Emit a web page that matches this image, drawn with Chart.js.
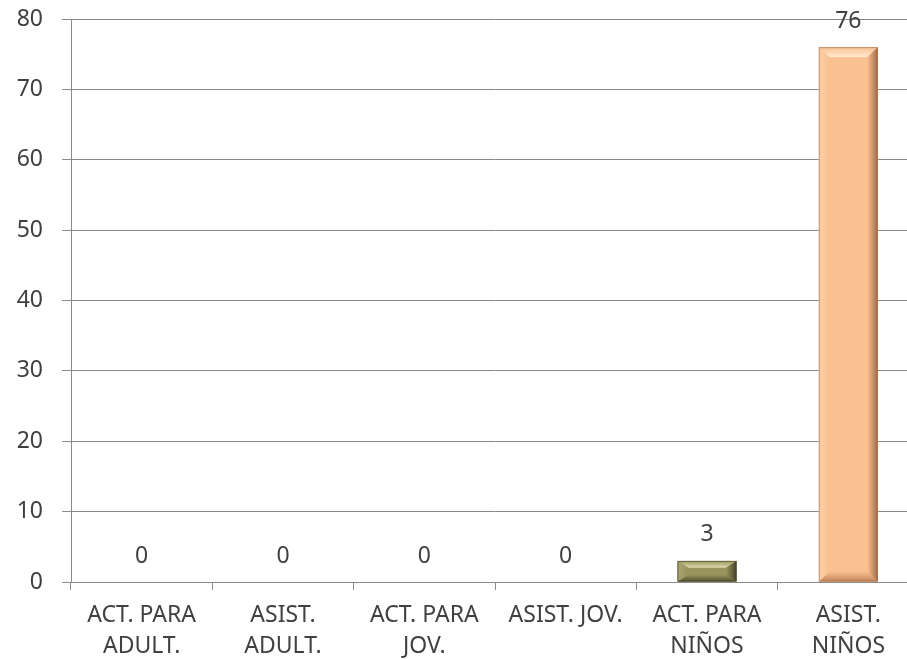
<!DOCTYPE html>
<html>
<head>
<meta charset="utf-8">
<script src="https://cdn.jsdelivr.net/npm/chart.js@4/dist/chart.umd.min.js"></script>
<style>
html,body{margin:0;padding:0;background:#fff;overflow:hidden;}
#wrap{width:919px;height:659px;}
</style>
</head>
<body>
<div id="wrap"><canvas id="c" width="919" height="659"></canvas></div>
<script>
const categories = [["ACT. PARA","ADULT."],["ASIST.","ADULT."],["ACT. PARA","JOV."],["ASIST. JOV."],["ACT. PARA","NIÑOS"],["ASIST.","NIÑOS"]];
const values = [0, 0, 0, 0, 3, 76];
const yTicks = [0, 10, 20, 30, 40, 50, 60, 70, 80];

const barColors = ['#4F81BD','#C0504D','#9BBB59','#8064A2','#8F8B5A','#FAC090'];
const bevel = [
  null,null,null,null,
  {top:'#E0DBAA', bottom:'#55512F', left:'#ABA670', right:'#46432A', mid:'#99945E', edge:'#3F3C24'},
  {top:'#FFEAD0', bottom:'#BF855A', left:'#FDD2AA', right:'#A26B47', mid:'#FAC090', edge:'#9C6A48'}
];

const FONT = '"Noto Sans", "Open Sans", sans-serif';
const TXT = '#404040';
const GRID = '#8A8A8A';

const bevelPlugin = {
  id: 'bevel',
  afterDatasetsDraw(chart) {
    const ctx = chart.ctx;
    const meta = chart.getDatasetMeta(0);
    meta.data.forEach((el, i) => {
      const bv = bevel[i];
      const v = chart.data.datasets[0].data[i];
      if (!bv || !v) return;
      const p = el.getProps(['x','y','base','width'], true);
      const x0 = p.x - p.width/2, x1 = p.x + p.width/2;
      const t = p.y, b = p.base;
      const h = b - t;
      const d = Math.min(10, h * 0.33);
      const dx = Math.min(11, p.width*0.18);
      ctx.save();
      ctx.fillStyle = bv.mid;
      ctx.fillRect(x0, t, p.width, h);
      const poly = (pts, col) => {
        ctx.beginPath();
        ctx.moveTo(pts[0][0], pts[0][1]);
        for (let k = 1; k < pts.length; k++) ctx.lineTo(pts[k][0], pts[k][1]);
        ctx.closePath();
        ctx.fillStyle = col;
        ctx.fill();
      };
      let g = ctx.createLinearGradient(0, t, 0, t + d);
      g.addColorStop(0, bv.mid); g.addColorStop(1, bv.top);
      poly([[x0,t],[x1,t],[x1-dx,t+d],[x0+dx,t+d]], g);
      g = ctx.createLinearGradient(0, b - d, 0, b);
      g.addColorStop(0, bv.mid); g.addColorStop(1, bv.bottom);
      poly([[x0,b],[x1,b],[x1-dx,b-d],[x0+dx,b-d]], g);
      g = ctx.createLinearGradient(x0, 0, x0 + dx, 0);
      g.addColorStop(0, bv.left); g.addColorStop(1, bv.mid);
      poly([[x0,t],[x0+dx,t+d],[x0+dx,b-d],[x0,b]], g);
      g = ctx.createLinearGradient(x1 - dx, 0, x1, 0);
      g.addColorStop(0, bv.mid); g.addColorStop(1, bv.right);
      poly([[x1,t],[x1-dx,t+d],[x1-dx,b-d],[x1,b]], g);
      ctx.strokeStyle = bv.edge;
      ctx.globalAlpha = 0.6;
      ctx.lineWidth = 1;
      ctx.strokeRect(x0 + 0.5, t + 0.5, p.width - 1, h - 1);
      ctx.restore();
    });
  }
};

const labelPlugin = {
  id: 'valueLabels',
  afterDatasetsDraw(chart) {
    const ctx = chart.ctx;
    const meta = chart.getDatasetMeta(0);
    ctx.save();
    ctx.font = '23px ' + FONT;
    ctx.fillStyle = TXT;
    ctx.textAlign = 'center';
    ctx.textBaseline = 'middle';
    meta.data.forEach((el, i) => {
      const p = el.getProps(['x','y'], true);
      ctx.fillText(String(chart.data.datasets[0].data[i]), p.x, p.y - 26);
    });
    ctx.restore();
  }
};

new Chart(document.getElementById('c'), {
  type: 'bar',
  data: {
    labels: categories,
    datasets: [{
      data: values,
      backgroundColor: barColors,
      barPercentage: 0.417,
      categoryPercentage: 1.0
    }]
  },
  options: {
    responsive: false,
    animation: false,
    layout: { padding: { top: 19, right: 0, left: 0, bottom: 0 } },
    plugins: { legend: { display: false }, tooltip: { enabled: false } },
    scales: {
      x: {
        offset: true,
        grid: { offset: true, drawOnChartArea: false, drawTicks: true, tickLength: 8, color: GRID, lineWidth: 1 },
        border: { display: true, color: GRID, width: 1 },
        ticks: { color: TXT, font: { family: FONT, size: 23, lineHeight: '31px' }, padding: 10, maxRotation: 0, autoSkip: false },
        afterFit(scale) { scale.height = 77; scale.paddingLeft = 0; scale.paddingRight = 0; }
      },
      y: {
        min: 0, max: 80,
        afterBuildTicks(scale) { scale.ticks = yTicks.map(v => ({ value: v })); },
        grid: { color: GRID, lineWidth: 1, drawTicks: true, tickLength: 9 },
        border: { display: true, color: GRID, width: 1 },
        ticks: { color: TXT, font: { family: FONT, size: 23 }, padding: 19 },
        afterFit(scale) { scale.width = 71; scale.paddingTop = 0; scale.paddingBottom = 0; }
      }
    }
  },
  plugins: [bevelPlugin, labelPlugin]
});
</script>
</body>
</html>
